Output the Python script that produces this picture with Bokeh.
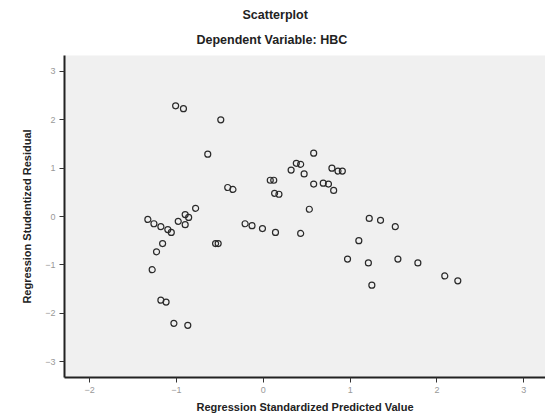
from bokeh.plotting import figure
from bokeh.models import Range1d, FixedTicker, Title
from bokeh.embed import file_html
from bokeh.resources import INLINE

# Regression standardized predicted value (x) and studentized residual (y)
pred_value = [-1.01, -0.92, -0.49, -0.64, -0.41, -0.35, 0.58, 0.38, 0.43, 0.32,
              0.47, 0.08, 0.12, 0.13, 0.18, 0.58, 0.69, 0.75, 0.81, 0.79,
              0.86, 0.91, 0.53, -0.78, -0.90, -0.86, -0.98, -0.90, -1.33, -1.26,
              -1.18, -1.10, -1.06, -1.16, -1.23, -1.28, -1.18, -1.12, -1.03, -0.87,
              -0.55, -0.52, -0.21, -0.13, -0.01, 0.14, 0.43, 1.22, 1.35, 1.52,
              1.10, 0.97, 1.21, 1.55, 1.78, 2.09, 2.24, 1.25]
stud_resid = [2.29, 2.23, 2.00, 1.29, 0.60, 0.56, 1.31, 1.10, 1.08, 0.96,
              0.88, 0.75, 0.75, 0.48, 0.46, 0.67, 0.69, 0.67, 0.54, 1.00,
              0.94, 0.94, 0.15, 0.17, 0.04, -0.02, -0.10, -0.17, -0.06, -0.15,
              -0.21, -0.27, -0.33, -0.56, -0.73, -1.10, -1.73, -1.77, -2.21, -2.25,
              -0.56, -0.56, -0.15, -0.19, -0.25, -0.33, -0.35, -0.04, -0.08, -0.21,
              -0.50, -0.88, -0.96, -0.88, -0.96, -1.23, -1.33, -1.42]

x_ticks = [-2, -1, 0, 1, 2, 3]
y_ticks = [-3, -2, -1, 0, 1, 2, 3]
title_text = "Scatterplot"
subtitle_text = "Dependent Variable: HBC"
x_label = "Regression Standardized Predicted Value"
y_label = "Regression Studentized Residual"

FONT = "Liberation Sans"

p = figure(width=545, height=415, output_backend="svg", toolbar_location=None,
           x_range=Range1d(-2.29, 3.25), y_range=Range1d(-3.33, 3.33),
           min_border_left=64, min_border_right=0, min_border_top=55,
           min_border_bottom=38, title=None)

p.background_fill_color = "#f0f0f0"
p.border_fill_color = "white"
p.outline_line_color = None
p.grid.visible = False

p.scatter(pred_value, stud_resid, marker="circle", size=6, fill_color=None,
          line_color="#2a2a2a", line_width=1.2)

for ax, ticks, lab in ((p.xaxis, x_ticks, x_label), (p.yaxis, y_ticks, y_label)):
    ax.ticker = FixedTicker(ticks=ticks)
    ax.minor_tick_line_color = None
    ax.major_tick_in = 0
    ax.major_tick_out = 5
    ax.major_tick_line_color = "#333333"
    ax.axis_line_color = "#222222"
    ax.axis_line_width = 2
    ax.major_label_text_font = FONT
    ax.major_label_text_font_size = "9px"
    ax.major_label_text_color = "#999999"
    ax.axis_label = lab
    ax.axis_label_text_font = FONT
    ax.axis_label_text_font_size = "11px"
    ax.axis_label_text_font_style = "bold"
    ax.axis_label_text_color = "#222222"

p.xaxis.major_label_standoff = 4
p.xaxis.axis_label_standoff = 5
p.yaxis.major_label_standoff = 4
p.yaxis.axis_label_standoff = 9

sub = Title(text=subtitle_text, align="left", offset=132, text_font=FONT,
            text_font_size="12.5px", text_font_style="bold", text_color="#222222",
            standoff=18)
ttl = Title(text=title_text, align="left", offset=178, text_font=FONT,
            text_font_size="12.5px", text_font_style="bold", text_color="#222222",
            standoff=0)
p.add_layout(sub, "above")
p.add_layout(ttl, "above")

open("out.html", "w").write(file_html(p, INLINE))
